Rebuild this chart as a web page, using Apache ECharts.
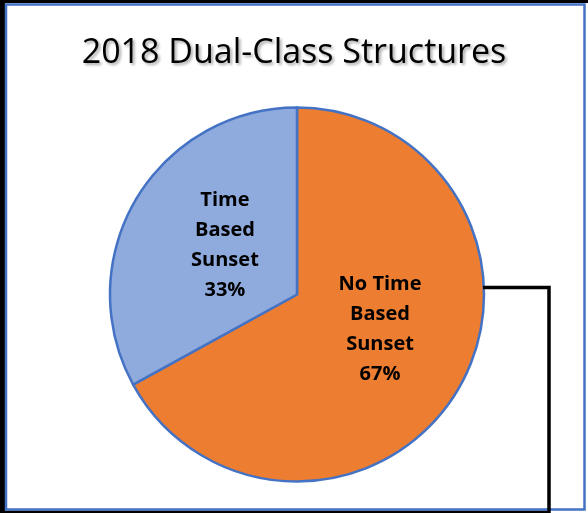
<!DOCTYPE html>
<html>
<head>
<meta charset="utf-8">
<script src="https://cdn.jsdelivr.net/npm/echarts@6/dist/echarts.min.js"></script>
<style>
html,body{margin:0;padding:0;background:#fff;}
#chart{width:588px;height:513px;}
</style>
</head>
<body>
<div id="chart"></div>
<script>
const titleText = '2018 Dual-Class Structures';
const categories = ['No Time Based Sunset', 'Time Based Sunset'];
const labelTexts = ['No Time\nBased\nSunset', 'Time\nBased\nSunset'];
const values = [67, 33];
const colors = ['#ED7D31', '#8FAADC'];

const labelShift = [{dx: 0, dy: -14}, {dx: 11, dy: 0}];

const chart = echarts.init(document.getElementById('chart'), null, {renderer: 'canvas'});
chart.setOption({
  backgroundColor: '#fff',
  animation: false,
  title: {
    text: titleText,
    left: 'center',
    top: 31,
    textStyle: {
      fontFamily: 'Open Sans',
      fontSize: 34,
      fontWeight: 'normal',
      color: '#000',
      textShadowColor: 'rgba(0,0,0,0.35)',
      textShadowBlur: 3,
      textShadowOffsetX: 2,
      textShadowOffsetY: 2
    }
  },
  graphic: [
    {type: 'rect', shape: {x: 0, y: 0, width: 5, height: 513}, style: {fill: '#000'}, z: 100},
    {type: 'rect', shape: {x: 0, y: 0, width: 588, height: 3}, style: {fill: '#000'}, z: 100},
    {type: 'rect', shape: {x: 0, y: 510.5, width: 548, height: 3}, style: {fill: '#000'}, z: 100},
    {type: 'rect', shape: {x: 6, y: 4.5, width: 578.5, height: 505}, style: {fill: null, stroke: '#4472C4', lineWidth: 2.5}, z: 100},
    {type: 'polyline', shape: {points: [[483, 287.5], [549, 287.5], [549, 513]]}, style: {stroke: '#000', lineWidth: 3.5, fill: null}, z: 100}
  ],
  series: [{
    type: 'pie',
    center: [297, 294.5],
    radius: [0, 187],
    startAngle: 90,
    clockwise: true,
    avoidLabelOverlap: false,
    itemStyle: {borderColor: '#4472C4', borderWidth: 2.5},
    label: {
      show: true,
      position: 'inside',
      fontFamily: 'Open Sans',
      fontWeight: 'bold',
      fontSize: 20,
      lineHeight: 30,
      color: '#000',
      align: 'center',
      formatter: function (p) {
        return labelTexts[p.dataIndex] + '\n' + Math.round(p.percent) + '%';
      }
    },
    labelLine: {show: false},
    labelLayout: function (p) {
      return {dx: labelShift[p.dataIndex].dx, dy: labelShift[p.dataIndex].dy};
    },
    emphasis: {disabled: true},
    data: categories.map(function (c, i) {
      return {name: c, value: values[i], itemStyle: {color: colors[i]}};
    })
  }]
});
</script>
</body>
</html>
